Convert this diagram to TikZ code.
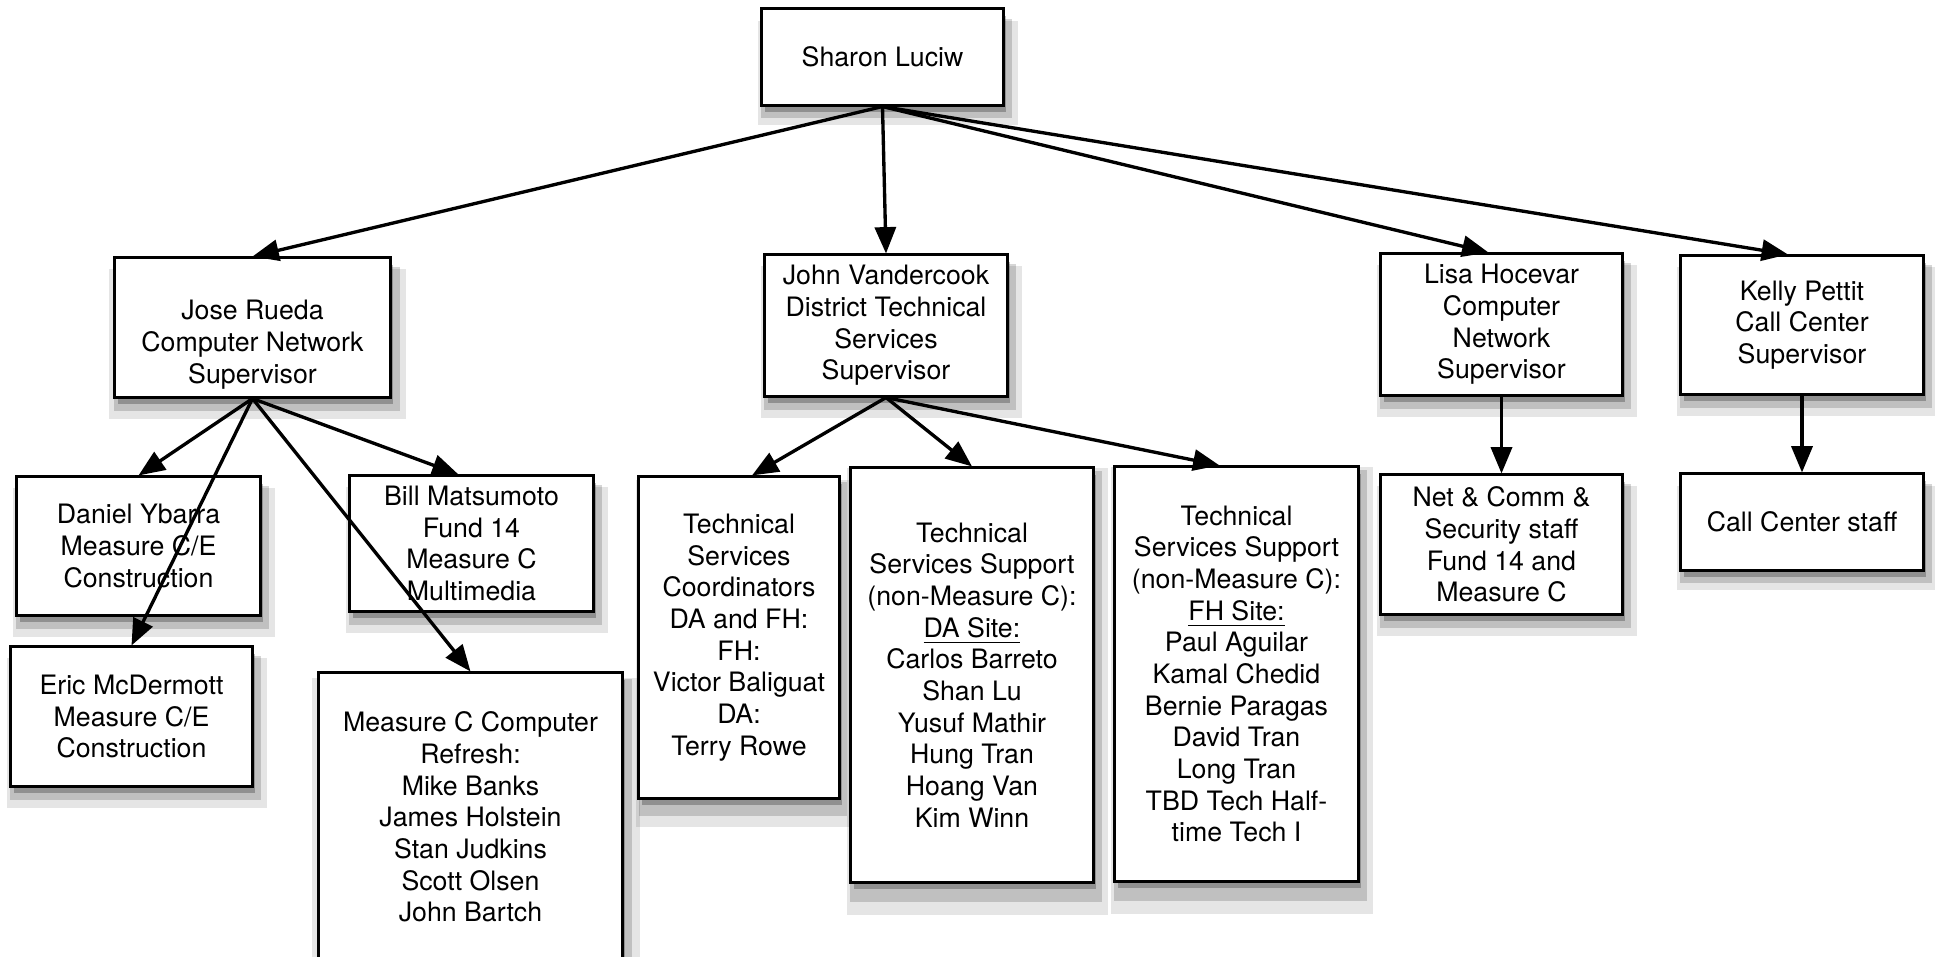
\documentclass[tikz,border=0pt]{standalone}
\usepackage{fontspec}
\setmainfont{TeX Gyre Heros}
\usetikzlibrary{arrows.meta,shadows}

\begin{document}
\begin{tikzpicture}[x=0.01cm, y=-0.01cm, font=\fontsize{7.6}{9}\selectfont,
  boxshadow/.style={
    drop shadow={shadow xshift=0.03cm, shadow yshift=-0.07cm, shadow scale=1.00, fill=black, opacity=0.25},
    drop shadow={shadow xshift=0.04cm, shadow yshift=-0.11cm, shadow scale=1.04, fill=black, opacity=0.16},
    drop shadow={shadow xshift=0.05cm, shadow yshift=-0.15cm, shadow scale=1.08, fill=black, opacity=0.10}},
  box/.style={draw, line width=0.85pt, fill=white, align=center, inner sep=2pt, boxshadow},
  arr/.style={line width=0.95pt, -{Triangle[length=7.5pt,width=6pt]}}]
\useasboundingbox (0,0) rectangle (1935,956);
% top
\node[box, minimum width=2.41cm, minimum height=0.96cm] (sharon) at (882.5,57) {Sharon Luciw};
% supervisors
\node[box, minimum width=2.75cm, minimum height=1.39cm] (jose) at (252.5,327.5) {\strut\\Jose Rueda\\Computer Network\\Supervisor};
\node[box, minimum width=2.42cm, minimum height=1.41cm] (john) at (886,325.5) {John Vandercook\\District Technical\\Services\\Supervisor};
\node[box, minimum width=2.41cm, minimum height=1.41cm] (lisa) at (1501.5,324.5) {Lisa Hocevar\\Computer\\Network\\Supervisor};
\node[box, minimum width=2.42cm, minimum height=1.38cm] (kelly) at (1802,325) {Kelly Pettit\\Call Center\\Supervisor};
% staff
\node[box, minimum width=2.43cm, minimum height=1.38cm] (daniel) at (138.5,546) {Daniel Ybarra\\Measure C/E\\Construction};
\node[box, minimum width=2.43cm, minimum height=1.35cm] (bill) at (471.5,543.5) {Bill Matsumoto\\Fund 14\\Measure C\\Multimedia};
\node[box, minimum width=2.41cm, minimum height=1.39cm] (eric) at (131.5,716.5) {Eric McDermott\\Measure C/E\\Construction};
\node[box, minimum width=3.03cm, minimum height=2.88cm] (refresh) at (470.5,817) {Measure C Computer\\Refresh:\\Mike Banks\\James Holstein\\Stan Judkins\\Scott Olsen\\John Bartch};
\node[box, minimum width=2.00cm, minimum height=3.21cm] (coord) at (739,637.5) {Technical\\Services\\Coordinators\\DA and FH:\\FH:\\Victor Baliguat\\DA:\\Terry Rowe};
\node[box, minimum width=2.42cm, minimum height=4.14cm] (dasite) at (972,675) {Technical\\Services Support\\(non-Measure C):\\\underline{DA Site:}\\Carlos Barreto\\Shan Lu\\Yusuf Mathir\\Hung Tran\\Hoang Van\\Kim Winn};
\node[box, minimum width=2.43cm, minimum height=4.14cm] (fhsite) at (1236.5,674) {Technical\\Services Support\\(non-Measure C):\\\underline{FH Site:}\\Paul Aguilar\\Kamal Chedid\\Bernie Paragas\\David Tran\\Long Tran\\TBD Tech Half-\\time Tech I};
\node[box, minimum width=2.41cm, minimum height=1.39cm] (netcomm) at (1501.5,544.5) {Net \& Comm \&\\Security staff\\Fund 14 and\\Measure C};
\node[box, minimum width=2.42cm, minimum height=0.96cm] (callstaff) at (1802,522) {Call Center staff};
% reporting lines
\foreach \from/\to/\dx in {sharon/jose/0, sharon/john/0, sharon/lisa/-0.13, sharon/kelly/-0.14,
    jose/daniel/0, jose/eric/0, jose/bill/-0.13, jose/refresh/0,
    john/coord/0.13, john/dasite/0, john/fhsite/-0.17,
    lisa/netcomm/0, kelly/callstaff/0}
  \draw[arr] (\from.south) -- ([xshift=\dx cm]\to.north);
\end{tikzpicture}
\end{document}
